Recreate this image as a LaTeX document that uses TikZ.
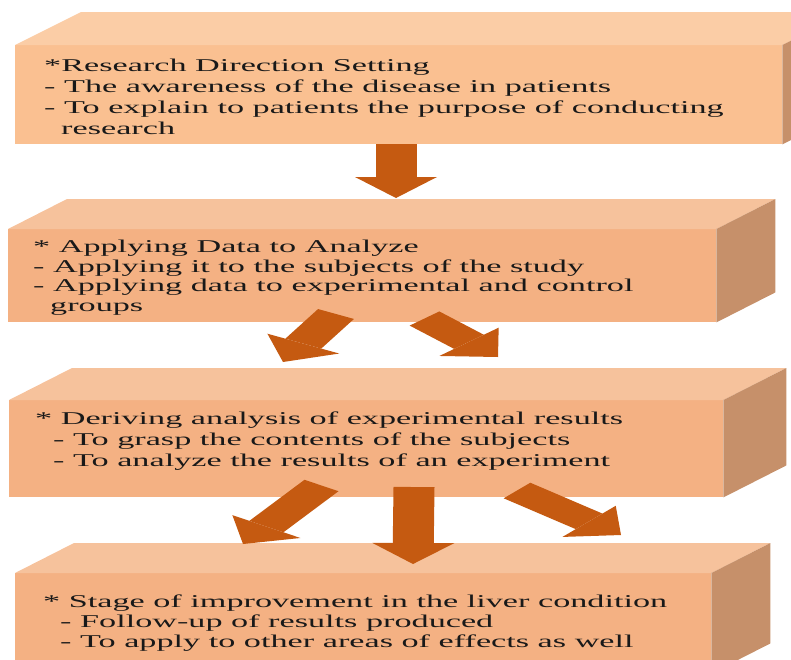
\documentclass[tikz,border=0pt]{standalone}
\usepackage{fontspec}
\setmainfont{Liberation Serif}[FakeStretch=1.9]
\usetikzlibrary{arrows.meta,calc}

\definecolor{faceA}{HTML}{FAC091}
\definecolor{topA}{HTML}{FBCDA6}
\definecolor{faceB}{HTML}{F4B183}
\definecolor{topB}{HTML}{F6C29C}
\definecolor{sideB}{HTML}{C6906A}
\definecolor{arrowfill}{HTML}{C55A11}

\begin{document}
\begin{tikzpicture}[x=1pt, y=-1pt,
    front/.style={rectangle, inner sep=0pt, anchor=north west},
    % base of a multi-line node sits on its last line
    txt/.style={anchor=base west, align=left, inner sep=0pt, text=black!90, font=\fontsize{18}{20.8}\selectfont},
    blockarrow/.style={draw=arrowfill, line width=41pt, -{Triangle[width=82pt, length=42pt, line width=0pt]}},
]
\useasboundingbox (0,0) rectangle (791,659);
\clip (0,0) rectangle (791,659);

% --- Stage 1 ---
\node[front, fill=faceA, minimum width=767pt, minimum height=99pt] (s1) at (15,45) {};
\fill[topA] (s1.north west) -- ++(66,-33) -- ($(s1.north east)+(66,-33)$) -- (s1.north east) -- cycle;
\fill[sideB] (s1.north east) -- ++(66,-33) -- ($(s1.south east)+(66,-33)$) -- (s1.south east) -- cycle;
\node[txt] (t1) at ($(s1.north west)+(29,89)$) {*Research Direction Setting\\
- The awareness of the disease in patients\\
- To explain to patients the purpose of conducting\\
\hspace*{17pt}research};

% --- Stage 2 ---
\node[front, fill=faceB, minimum width=708pt, minimum height=93pt] (s2) at (8,229) {};
\fill[topB] (s2.north west) -- ++(59,-30) -- ($(s2.north east)+(59,-30)$) -- (s2.north east) -- cycle;
\fill[sideB] (s2.north east) -- ++(59,-30) -- ($(s2.south east)+(59,-30)$) -- (s2.south east) -- cycle;
\node[txt, font=\fontsize{18}{19.5}\selectfont] (t2) at ($(s2.north west)+(25,82)$) {* Applying Data to Analyze\\
- Applying it to the subjects of the study\\
- Applying data to experimental and control\\
\hspace*{17pt}groups};

% --- Stage 3 ---
\node[front, fill=faceB, minimum width=714pt, minimum height=97pt] (s3) at (9,400) {};
\fill[topB] (s3.north west) -- ++(63,-32) -- ($(s3.north east)+(63,-32)$) -- (s3.north east) -- cycle;
\fill[sideB] (s3.north east) -- ++(63,-32) -- ($(s3.south east)+(63,-32)$) -- (s3.south east) -- cycle;
\node[txt] (t3) at ($(s3.north west)+(26,66)$) {* Deriving analysis of experimental results\\
\hspace*{18pt}- To grasp the contents of the subjects\\
\hspace*{18pt}- To analyze the results of an experiment};

% --- Stage 4 ---
\node[front, fill=faceB, minimum width=696pt, minimum height=100pt] (s4) at (15,573) {};
\fill[topB] (s4.north west) -- ++(59,-30) -- ($(s4.north east)+(59,-30)$) -- (s4.north east) -- cycle;
\fill[sideB] (s4.north east) -- ++(59,-30) -- ($(s4.south east)+(59,-30)$) -- (s4.south east) -- cycle;
\node[txt, font=\fontsize{18}{20}\selectfont] (t4) at ($(s4.north west)+(28,74)$) {* Stage of improvement in the liver condition\\
\hspace*{17pt}- Follow-up of results produced\\
\hspace*{17pt}- To apply to other areas of effects as well};

% --- Arrows, laid flat: drawn at double height, then squashed ---
\begin{scope}[transform canvas={yscale=0.5}]
  \coordinate (a1from) at (396,288);    \coordinate (a1to) at (396,396);
  \coordinate (a2lfrom) at (336,628);   \coordinate (a2lto) at (283,724);
  \coordinate (a2rfrom) at (424.5,637); \coordinate (a2rto) at (498,714);
  \coordinate (a3lfrom) at (321.5,971); \coordinate (a3lto) at (243,1088);
  \coordinate (a3mfrom) at (414,974);   \coordinate (a3mto) at (413,1128);
  \coordinate (a3rfrom) at (517,981);   \coordinate (a3rto) at (621,1070);

  \draw[blockarrow] (a1from) -- (a1to);
  \draw[blockarrow] (a2lfrom) -- (a2lto);
  \draw[blockarrow] (a2rfrom) -- (a2rto);
  \draw[blockarrow] (a3lfrom) -- (a3lto);
  \draw[blockarrow] (a3mfrom) -- (a3mto);
  \draw[blockarrow] (a3rfrom) -- (a3rto);
\end{scope}

\end{tikzpicture}
\end{document}
